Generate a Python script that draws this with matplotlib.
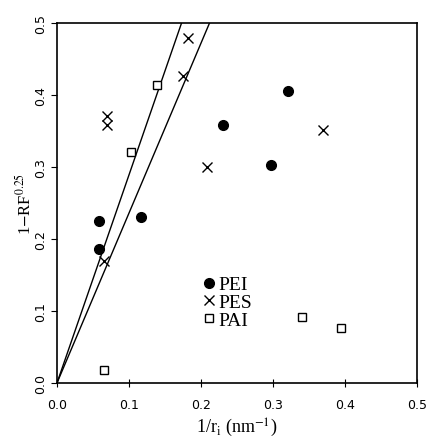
import numpy as np
import matplotlib
matplotlib.use('Agg')
import matplotlib.pyplot as plt

plt.rcParams['mathtext.fontset'] = 'stix'

# data
pei_x = [0.058, 0.058, 0.117, 0.230, 0.297, 0.321]
pei_y = [0.225, 0.186, 0.230, 0.358, 0.303, 0.405]
pes_x = [0.065, 0.069, 0.069, 0.175, 0.182, 0.208, 0.369]
pes_y = [0.170, 0.371, 0.358, 0.426, 0.479, 0.300, 0.351]
pai_x = [0.065, 0.103, 0.139, 0.340, 0.394]
pai_y = [0.018, 0.321, 0.414, 0.092, 0.076]
slopes = [2.89, 2.36]  # fitted lines through origin

fig = plt.figure(figsize=(4.36, 4.39), dpi=100)
ax = fig.add_axes([0.1307, 0.1253, 0.8257, 0.82])

for s in slopes:
    xl = np.array([0, 0.5 / s])
    ax.plot(xl, s * xl, color='black', lw=1.0)

ax.plot(pei_x, pei_y, 'o', color='black', ms=7, ls='none', label='PEI')
ax.plot(pes_x, pes_y, 'x', color='black', ms=6.5, mew=1.0, ls='none', label='PES')
ax.plot(pai_x, pai_y, 's', mfc='white', mec='black', ms=6, mew=1.0, ls='none', label='PAI')

ax.set_xlim(0, 0.5)
ax.set_ylim(0, 0.5)
ax.set_xticks(np.arange(0, 0.51, 0.1))
ax.set_yticks(np.arange(0, 0.51, 0.1))
ax.set_xticklabels(['0.0', '0.1', '0.2', '0.3', '0.4', '0.5'])
ax.set_yticklabels(['0.0', '0.1', '0.2', '0.3', '0.4', '0.5'], rotation=90, va='center')
ax.tick_params(axis='x', direction='inout', length=6, labelsize=9, pad=8)
ax.tick_params(axis='y', direction='out', length=4, labelsize=9, pad=3)
for sp in ax.spines.values():
    sp.set_linewidth(1.2)

ax.set_xlabel(r'1/r$_\mathrm{i}$ (nm$^{-1}$)', fontsize=13, family='Liberation Serif', labelpad=3)
ax.set_ylabel(r'1$-$RF$^{0.25}$', fontsize=12, family='Liberation Serif', labelpad=0)

leg = ax.legend(loc='upper left', bbox_to_anchor=(0.38, 0.325), frameon=False,
                handlelength=0.6, handletextpad=0.15, labelspacing=0.0,
                borderpad=0, prop={'family': 'Liberation Serif', 'size': 14})

fig.savefig('out.png', dpi=100)
